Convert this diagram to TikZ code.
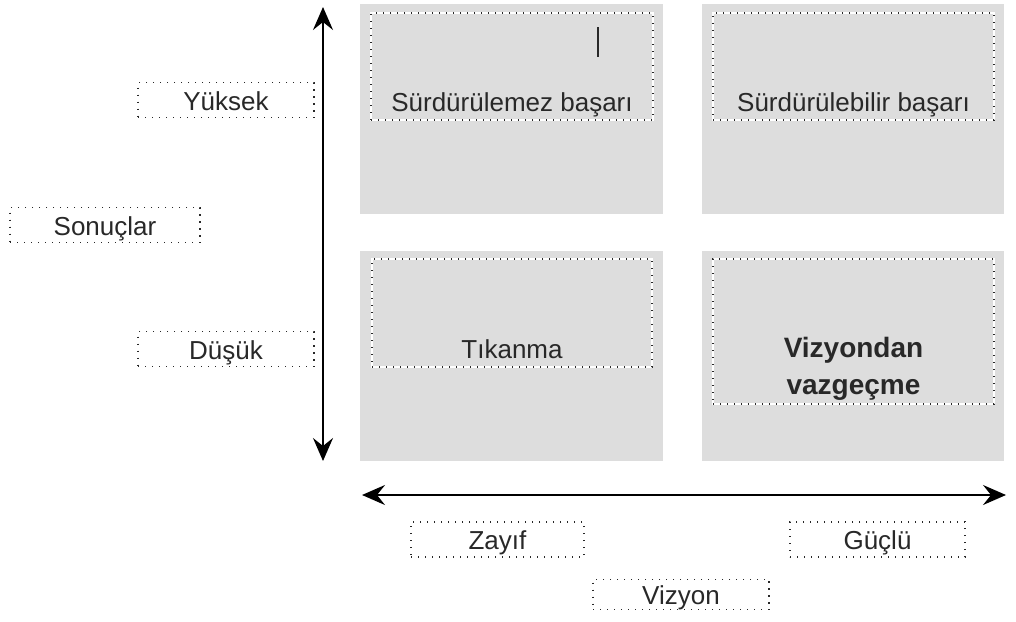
\documentclass[tikz,border=0pt]{standalone}
\usepackage{fontspec}
\setmainfont{Liberation Sans}
\usepackage{xcolor}
\usepackage{tikz}
\usetikzlibrary{arrows.meta}
\usetikzlibrary{positioning}

\definecolor{quadgray}{RGB}{221,221,221}
\definecolor{dotink}{RGB}{40,40,40}

\begin{document}
\begin{tikzpicture}[
    x = 1pt,
    y = -1pt,
    >={Stealth[length=23pt,width=20pt,inset=8pt]}]
    \tikzstyle{every node}=[inner sep=0pt,outer sep=0pt,text=dotink]
    \tikzstyle{quad}=[fill=quadgray,draw=none]
    \tikzstyle{dotbox}=[draw=dotink,line width=1.4pt,dash pattern=on 1.4pt off 5.6pt,
      preaction={draw=white,solid,line width=1.4pt}]
    \tikzstyle{tag}=[dotbox,minimum width=176pt,minimum height=35pt,
      text height=20pt,text depth=0pt,font=\fontsize{26pt}{31pt}\selectfont]
    \tikzstyle{quadtext}=[font=\fontsize{26pt}{31pt}\selectfont]
    \useasboundingbox (0,0) rectangle (1016,621);
    % quadrants
    \node[quad,minimum width=303pt,minimum height=210pt] (tlq) at (511.5,109) {};
    \node[quad,minimum width=302pt,minimum height=210pt] (trq) at (853,109) {};
    \node[quad,minimum width=303pt,minimum height=210pt] (blq) at (511.5,356) {};
    \node[quad,minimum width=302pt,minimum height=210pt] (brq) at (853,356) {};
    \node[dotbox,minimum width=282pt,minimum height=107pt] (tld) at (512,66.5) {};
    \node[dotbox,minimum width=281pt,minimum height=107pt] (trd) at (853.5,66.5) {};
    \node[dotbox,minimum width=280pt,minimum height=108pt] (bld) at (512,313) {};
    \node[dotbox,minimum width=281pt,minimum height=145pt] (brd) at (853.5,331.5) {};
    \node[quadtext,anchor=base] (tlt) at ([yshift=9pt]tld.south) {Sürdürülemez başarı};
    \node[quadtext,anchor=base] (trt) at ([yshift=9pt]trd.south) {Sürdürülebilir başarı};
    \node[quadtext,anchor=base] (blt) at ([yshift=9pt]bld.south) {Tıkanma};
    \node[quadtext,align=center,font=\bfseries\fontsize{28pt}{37pt}\selectfont] (brt)
      at (853.5,369) {Vizyondan\\vazgeçme};
    \draw[dotink,line width=1.3pt] (598,27) -- (598,57);
    % axes
    \coordinate (vtop) at (323,7);
    \coordinate (vbot) at (323,461);
    \coordinate (hleft) at (362,495);
    \coordinate (hright) at (1006,495);
    \draw[<->,line width=2pt] (vbot) -- (vtop);
    \draw[<->,line width=2pt] (hleft) -- (hright);
    % labels
    \node[tag] (high) at (226,100) {Yüksek};
    \node[tag,minimum width=190pt] (result) at (105,225) {Sonuçlar};
    \node[tag] (low) at (226,349) {Düşük};
    \node[tag,minimum width=173pt] (weak) at (497.5,539.5) {Zayıf};
    \node[tag,minimum width=175pt] (strong) at (877.5,539.5) {Güçlü};
    \node[tag,minimum height=30pt] (vision) at (681,594.5) {Vizyon};
\end{tikzpicture}
\end{document}
